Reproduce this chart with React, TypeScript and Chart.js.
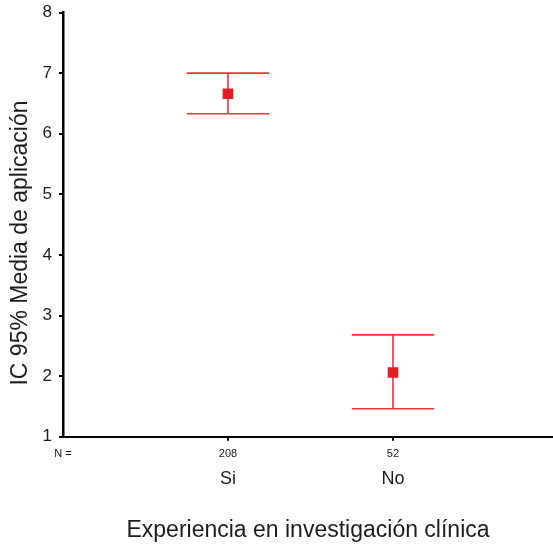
import React, { useEffect, useRef } from "react";
import { Chart, registerables } from "chart.js";

Chart.register(...registerables);

const categories = ["Si", "No"];
const nCounts = [208, 52];
const means = [6.66, 2.06];
const lowerCI = [6.33, 1.46];
const upperCI = [7.0, 2.68];
const yTickValues = [1, 2, 3, 4, 5, 6, 7, 8];
const yTitle = "IC 95% Media de aplicación";
const xTitle = "Experiencia en investigación clínica";
const nLabel = "N =";

const FONT = "Arial, 'Liberation Sans', Helvetica, sans-serif";
const RED_LINE = "rgb(240, 52, 56)";
const RED_MARK = "rgb(230, 28, 36)";
const TEXT = "#1c1c1c";

export default function App() {
  const ref = useRef<HTMLCanvasElement>(null);

  useEffect(() => {
    const canvas = ref.current;
    if (!canvas) return;

    const errorBars = {
      id: "errorBars",
      beforeDatasetsDraw(chart: any) {
        const { ctx } = chart;
        const x = chart.scales.x;
        const y = chart.scales.y;
        const spacing = x.getPixelForValue(2) - x.getPixelForValue(1);
        const half = spacing * 0.25;
        ctx.save();
        ctx.strokeStyle = RED_LINE;
        ctx.lineWidth = 1.6;
        means.forEach((_m, i) => {
          const px = x.getPixelForValue(i + 1);
          const yl = y.getPixelForValue(lowerCI[i]);
          const yu = y.getPixelForValue(upperCI[i]);
          ctx.beginPath();
          ctx.moveTo(px, yu);
          ctx.lineTo(px, yl);
          ctx.moveTo(px - half, yu);
          ctx.lineTo(px + half, yu);
          ctx.moveTo(px - half, yl);
          ctx.lineTo(px + half, yl);
          ctx.stroke();
        });
        ctx.restore();
      },
      afterDraw(chart: any) {
        const { ctx } = chart;
        const x = chart.scales.x;
        ctx.save();
        ctx.fillStyle = TEXT;
        ctx.font = `11px ${FONT}`;
        ctx.textAlign = "center";
        ctx.textBaseline = "middle";
        const ny = x.top + 17;
        ctx.fillText(nLabel, x.left, ny);
        nCounts.forEach((n, i) => {
          ctx.fillText(String(n), x.getPixelForValue(i + 1), ny);
        });
        // y axis title
        ctx.font = `23px ${FONT}`;
        ctx.translate(21, 243);
        ctx.rotate(-Math.PI / 2);
        ctx.fillText(yTitle, 0, 0);
        ctx.restore();
      },
    };

    const chart = new Chart(canvas, {
      type: "scatter",
      data: {
        datasets: [
          {
            data: means.map((m, i) => ({ x: i + 1, y: m })),
            pointStyle: "rect",
            pointRadius: 7.5,
            pointBackgroundColor: RED_MARK,
            pointBorderColor: RED_MARK,
            pointBorderWidth: 0,
            showLine: false,
          },
        ],
      },
      options: {
        responsive: false,
        animation: false,
        devicePixelRatio: 1,
        layout: { autoPadding: false, padding: { top: 12.5, right: 0, left: 0, bottom: 0 } },
        plugins: {
          legend: { display: false },
          tooltip: { enabled: false },
        },
        scales: {
          x: {
            type: "linear",
            min: 0,
            max: 2.97,
            afterBuildTicks: (scale: any) => {
              scale.ticks = categories.map((_c, i) => ({ value: i + 1 }));
            },
            afterFit: (scale: any) => {
              scale.height = 107.3;
              scale.paddingRight = 0;
              scale.paddingLeft = 0;
            },
            ticks: {
              callback: (v: any) => categories[Number(v) - 1] ?? "",
              font: { family: FONT, size: 18 },
              color: TEXT,
              padding: 28,
              maxRotation: 0,
              autoSkip: false,
            },
            grid: {
              display: true,
              drawOnChartArea: false,
              drawTicks: true,
              tickLength: 4,
              color: "#000",
              lineWidth: 2,
            },
            border: { display: true, color: "#000", width: 2 },
            title: {
              display: true,
              text: xTitle,
              font: { family: FONT, size: 23 },
              color: TEXT,
              padding: { top: 0, bottom: 0 },
            },
          },
          y: {
            type: "linear",
            min: 1,
            max: 8,
            afterBuildTicks: (scale: any) => {
              scale.ticks = yTickValues.map((v) => ({ value: v }));
            },
            afterFit: (scale: any) => {
              scale.width = 63;
              scale.paddingTop = 0;
              scale.paddingBottom = 0;
            },
            ticks: {
              font: { family: FONT, size: 17 },
              color: TEXT,
              padding: 7,
              stepSize: 1,
            },
            grid: {
              display: true,
              drawOnChartArea: false,
              drawTicks: true,
              tickLength: 4,
              color: "#000",
              lineWidth: 2,
            },
            border: { display: true, color: "#000", width: 2.5 },
          },
        },
      },
      plugins: [errorBars],
    } as any);

    return () => chart.destroy();
  }, []);

  return (
    <div style={{ position: "absolute", left: 0, top: 0, width: 553, height: 544, background: "#fff" }}>
      <canvas ref={ref} width={553} height={544} style={{ display: "block" }} />
    </div>
  );
}
